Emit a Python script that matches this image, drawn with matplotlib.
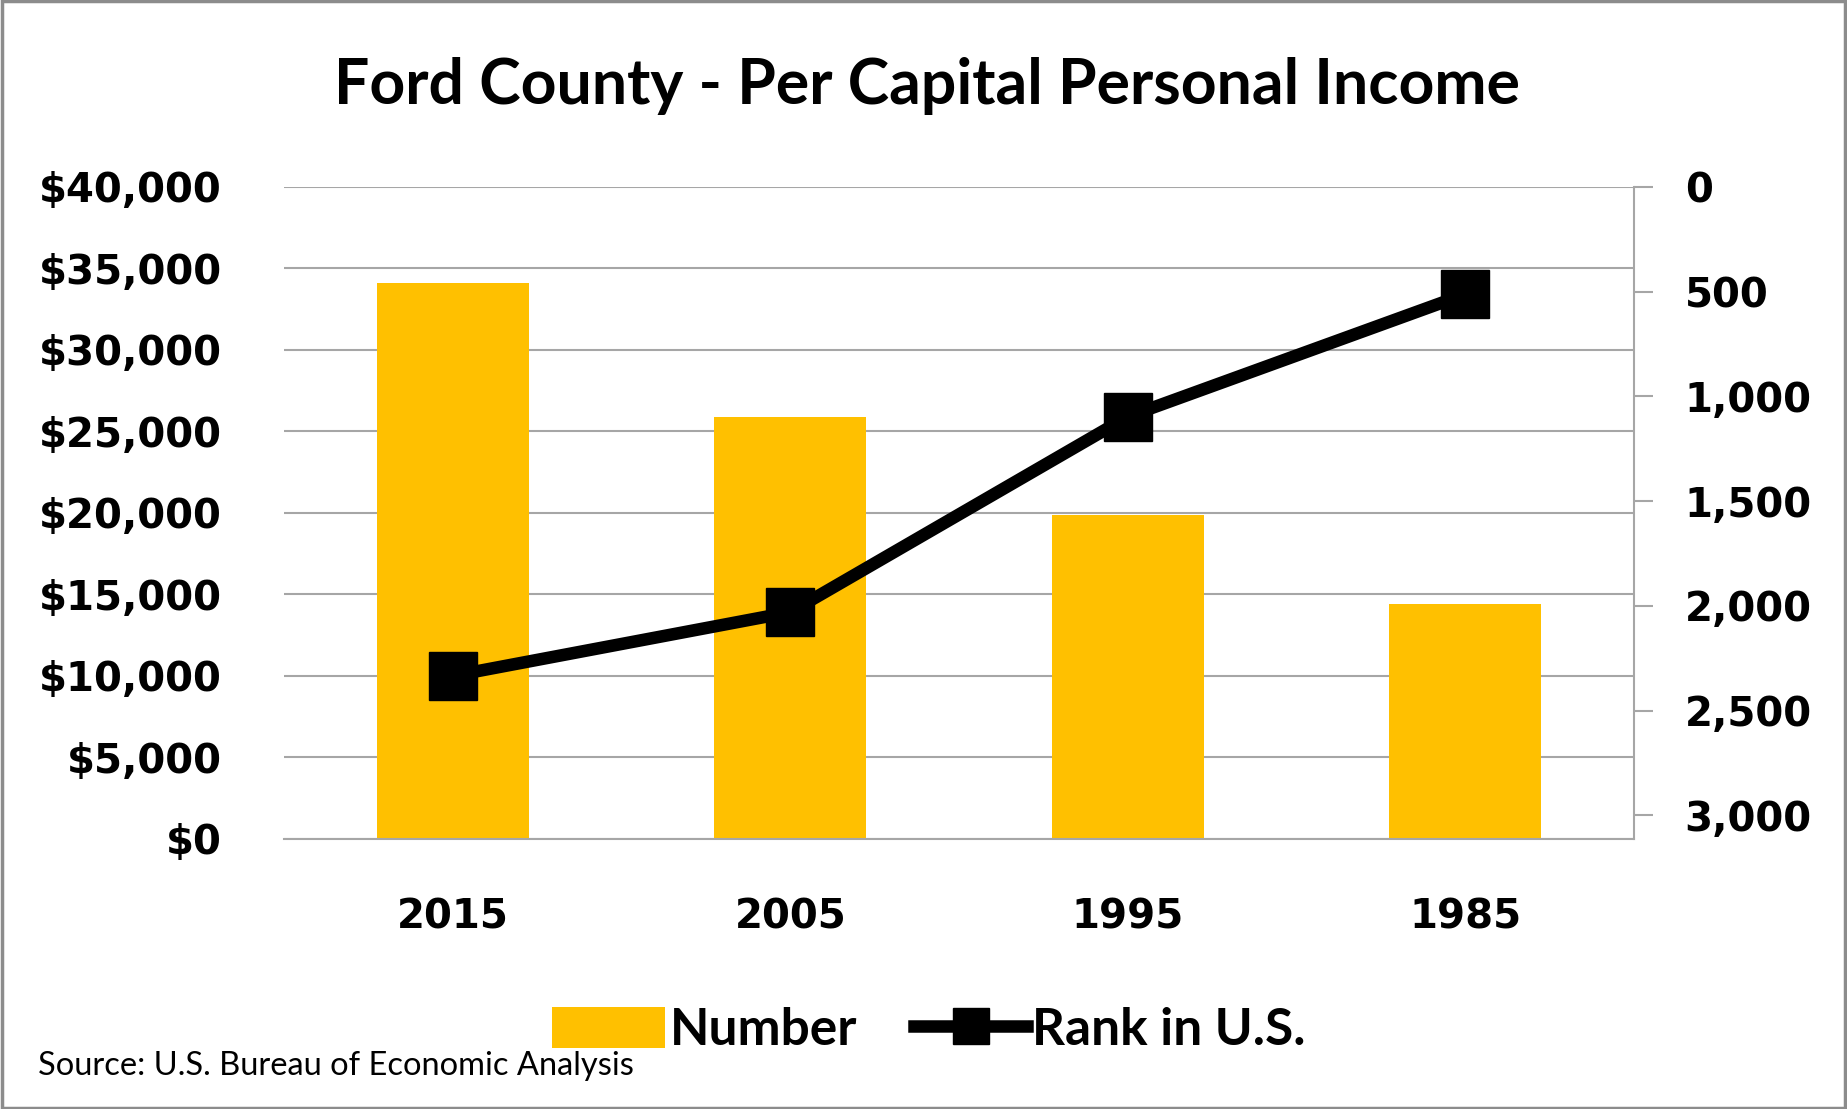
import matplotlib
matplotlib.use("Agg")
import matplotlib.pyplot as plt
from matplotlib.patches import Patch, Rectangle
from matplotlib.lines import Line2D
from matplotlib.ticker import FuncFormatter

# data
years = ["2015", "2005", "1995", "1985"]
income = [34100, 25900, 19900, 14400]
rank = [2334, 2030, 1097, 512]
income_ticks = [0, 5000, 10000, 15000, 20000, 25000, 30000, 35000, 40000]
rank_ticks = [0, 500, 1000, 1500, 2000, 2500, 3000]

narrow = ["Lato", "Open Sans", "DejaVu Sans"]
gold = "#FFC000"
grid_c = "#A6A6A6"

fig = plt.figure(figsize=(18.47, 11.09), dpi=100)
ax = fig.add_axes([0.1538, 0.2435, 0.7309, 0.5879])

x = range(len(years))
ax.bar(x, income, width=0.45, color=gold, zorder=2)
ax.set_xlim(-0.5, len(years) - 0.5)
ax.set_ylim(0, 40000)
ax.set_yticks(income_ticks)
ax.yaxis.set_major_formatter(FuncFormatter(lambda v, p: f"${v:,.0f}"))
ax.set_xticks(list(x))
ax.set_xticklabels(years)
ax.grid(axis="y", color=grid_c, linewidth=1.5, zorder=0)
ax.set_axisbelow(True)
for s in ["top", "right", "left"]:
    ax.spines[s].set_visible(False)
ax.spines["bottom"].set_color(grid_c)
ax.spines["bottom"].set_linewidth(1.5)
ax.tick_params(axis="y", length=0, labelsize=29, pad=45)
ax.tick_params(axis="x", length=0, labelsize=29, pad=42)
for lab in ax.get_xticklabels() + ax.get_yticklabels():
    lab.set_fontweight("bold")

ax2 = ax.twinx()
ax2.plot(list(x), rank, color="black", linewidth=9, marker="s", markersize=34,
         zorder=3)
ax2.set_ylim(3113, 0)
ax2.set_yticks(rank_ticks)
ax2.yaxis.set_major_formatter(FuncFormatter(lambda v, p: f"{v:,.0f}"))
for s in ["top", "left", "bottom"]:
    ax2.spines[s].set_visible(False)
ax2.spines["right"].set_color(grid_c)
ax2.spines["right"].set_linewidth(1.5)
ax2.tick_params(axis="y", length=13.5, width=1.5, color=grid_c, labelsize=29,
                pad=23, direction="out")
for lab in ax2.get_yticklabels():
    lab.set_fontweight("bold")

fig.text(0.502, 0.9065, "Ford County - Per Capital Personal Income",
         ha="center", va="baseline", fontsize=45, fontweight="bold", family=narrow)

handles = [Patch(facecolor=gold, edgecolor="none"),
           Line2D([0], [0], color="black", linewidth=9, marker="s", markersize=26)]
leg = fig.legend(handles, ["Number", "Rank in U.S."], loc="center",
                 bbox_to_anchor=(0.503, 0.071), ncol=2, frameon=False,
                 prop={"family": narrow, "weight": "bold", "size": 37},
                 handlelength=2.2, handleheight=0.85, handletextpad=0.1,
                 columnspacing=1.1)

fig.text(0.0205, 0.039, "Source: U.S. Bureau of Economic Analysis",
         ha="left", va="center", fontsize=23.5, family=narrow)

fig.add_artist(Rectangle((0.001, 0.001), 0.998, 0.998, transform=fig.transFigure,
                         fill=False, edgecolor="#8C8C8C", linewidth=2.5))

fig.savefig("out.png", dpi=100)
